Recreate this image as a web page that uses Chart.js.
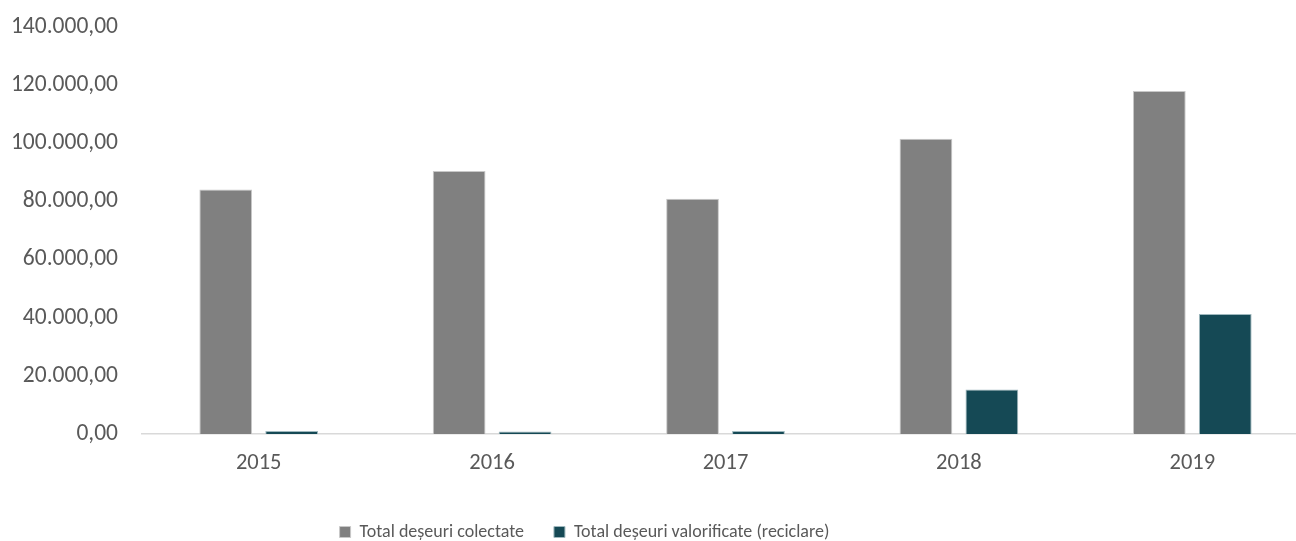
<!DOCTYPE html>
<html>
<head>
<meta charset="utf-8">
<script src="https://cdn.jsdelivr.net/npm/chart.js@4"></script>
<style>
  html, body { margin: 0; padding: 0; background: #fff; overflow: hidden; }
  #wrap { width: 1310px; height: 541px; }
</style>
</head>
<body>
<div id="wrap"><canvas id="wasteChart" width="1310" height="541"></canvas></div>
<script>
const years = ['2015', '2016', '2017', '2018', '2019'];
const collected = [84100, 90500, 80900, 101600, 118000];
const recycled = [1000, 900, 1000, 15300, 41300];
const seriesNames = ['Total deșeuri colectate', 'Total deșeuri valorificate (reciclare)'];

const textColor = '#595959';
const fontFamily = 'Carlito, Lato, "Open Sans", sans-serif';

// ro-RO style number: 140.000,00
function formatRo(value) {
  const parts = Number(value).toFixed(2).split('.');
  const intPart = parts[0].replace(/\B(?=(\d{3})+(?!\d))/g, '.');
  return intPart + ',' + parts[1];
}

// nudge the legend row left of centre and a bit lower
const legendShift = {
  id: 'legendShift',
  afterLayout(chart) {
    const lg = chart.legend;
    if (!lg) return;
    lg.left -= 70;
    lg.right -= 70;
    lg.top += 12;
    lg.bottom += 12;
  }
};

const ctx = document.getElementById('wasteChart').getContext('2d');
new Chart(ctx, {
  type: 'bar',
  data: {
    labels: years,
    datasets: [
      {
        label: seriesNames[0],
        data: collected,
        backgroundColor: '#808080',
        borderColor: '#c8c8c8',
        borderWidth: 1,
        categoryPercentage: 0.565,
        barPercentage: 0.8
      },
      {
        label: seriesNames[1],
        data: recycled,
        backgroundColor: '#154955',
        borderColor: '#9fb8be',
        borderWidth: 1,
        categoryPercentage: 0.565,
        barPercentage: 0.8
      }
    ]
  },
  options: {
    responsive: false,
    animation: false,
    layout: { padding: { top: 27, right: 1, bottom: 2, left: 0 } },
    scales: {
      y: {
        min: 0,
        max: 140000,
        ticks: {
          stepSize: 20000,
          padding: 24,
          color: textColor,
          font: { family: fontFamily, size: 23.5 },
          callback: (v) => formatRo(v)
        },
        grid: { display: false, drawTicks: false },
        border: { display: false },
        afterFit: (scale) => {
          scale.width = 142;
          scale.paddingTop = 0;
          scale.paddingBottom = 0;
        }
      },
      x: {
        ticks: {
          padding: 16,
          color: textColor,
          font: { family: fontFamily, size: 22.5 }
        },
        grid: { display: false, drawTicks: false },
        border: { display: true, color: '#d9d9d9', width: 1.5 },
        afterFit: (scale) => { scale.height -= 12; }
      }
    },
    plugins: {
      legend: {
        position: 'bottom',
        labels: {
          boxWidth: 11,
          boxHeight: 11,
          padding: 30,
          color: textColor,
          font: { family: fontFamily, size: 18 }
        }
      },
      tooltip: { enabled: false }
    }
  },
  plugins: [legendShift]
});
</script>
</body>
</html>
